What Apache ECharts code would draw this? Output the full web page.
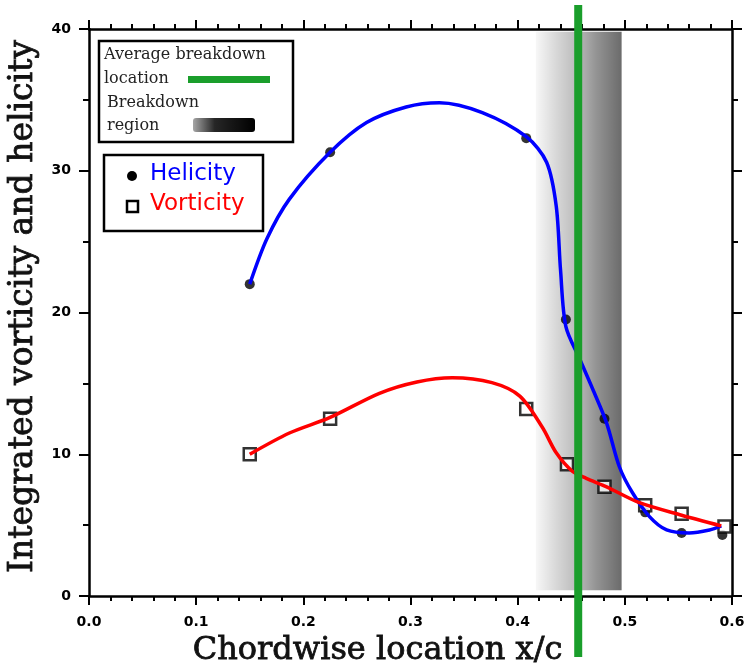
<!DOCTYPE html>
<html><head><meta charset="utf-8">
<script src="https://cdn.jsdelivr.net/npm/echarts@6/dist/echarts.min.js"></script>
<style>html,body{margin:0;padding:0;background:#fff}#c{width:747px;height:668px}</style>
</head><body><div id="c"></div>
<script>
// ---- data ----
const xTickLabels = ['0.0','0.1','0.2','0.3','0.4','0.5','0.6'];
const yTickLabels = ['0','10','20','30','40'];

const helicityX = [0.150, 0.225, 0.408, 0.445, 0.481, 0.519, 0.553, 0.591];
const helicityY = [22.0, 31.3, 32.3, 19.5, 12.5, 5.9, 4.45, 4.3];

const vorticityX = [0.150, 0.225, 0.408, 0.446, 0.481, 0.519, 0.553, 0.593];
const vorticityY = [10.0, 12.5, 13.2, 9.3, 7.7, 6.4, 5.8, 4.9];

// fitted curves drawn in the figure
const helicityCurveX = [0.150,0.166,0.187,0.225,0.259,0.296,0.327,0.367,0.408,0.427,0.436,0.440,0.445,0.458,0.470,0.483,0.495,0.507,0.523,0.539,0.560,0.579,0.590];
const helicityCurveY = [22.0,25.2,28.0,31.3,33.4,34.5,34.8,34.1,32.4,30.6,27.5,23.0,19.0,16.7,14.6,12.2,9.1,7.3,5.6,4.66,4.45,4.66,4.95];

const vorticityCurveX = [0.150,0.187,0.225,0.271,0.306,0.339,0.376,0.402,0.423,0.436,0.451,0.464,0.483,0.513,0.553,0.590];
const vorticityCurveY = [10.0,11.5,12.6,14.3,15.1,15.4,15.05,14.1,11.9,10.1,8.8,8.3,7.7,6.6,5.7,4.95];

const breakdownRegion = [0.417, 0.497];
const averageBreakdownX = 0.4565;

const zip = (a, b) => a.map((v, i) => [v, b[i]]);

const chart = echarts.init(document.getElementById('c'));
const labelFont = {fontFamily: 'DejaVu Sans', fontWeight: 'bold', fontSize: 14, color: '#000'};
const axisLine = {show: true, onZero: false, lineStyle: {color: '#000', width: 2.5}};

const xBase = {type: 'value', min: 0, max: 0.6, interval: 0.1, splitLine: {show: false},
  axisLine: axisLine, axisTick: {show: true, inside: false, length: 9, lineStyle: {color: '#000', width: 2}},
  minorTick: {show: true, splitNumber: 5, length: 5, lineStyle: {color: '#000', width: 2}}};
const yBase = {type: 'value', min: 0, max: 40, interval: 10, splitLine: {show: false},
  axisLine: axisLine, axisTick: {show: true, inside: false, length: 10, lineStyle: {color: '#000', width: 2}},
  minorTick: {show: true, splitNumber: 2, length: 6, lineStyle: {color: '#000', width: 2}}};

chart.setOption({
  animation: false,
  backgroundColor: '#fff',
  grid: {left: 89, right: 15, top: 29, bottom: 72, containLabel: false, outerBoundsMode: 'none'},
  xAxis: [
    Object.assign({}, xBase, {position: 'bottom',
      axisLabel: Object.assign({margin: 19, formatter: v => xTickLabels[Math.round(v * 10)]}, labelFont),
      name: 'Chordwise location x/c', nameLocation: 'middle', nameGap: 34,
      nameTextStyle: {fontFamily: 'DejaVu Serif', fontSize: 32, color: '#111', textBorderColor: '#111', textBorderWidth: 0.8, padding: [0, 66, 0, 0]}}),
    Object.assign({}, xBase, {position: 'top', axisLabel: {show: false}})
  ],
  yAxis: [
    Object.assign({}, yBase, {position: 'left',
      axisLabel: Object.assign({margin: 18, formatter: v => yTickLabels[Math.round(v / 10)]}, labelFont),
      name: 'Integrated vorticity and helicity', nameLocation: 'middle', nameGap: 43, nameRotate: 90,
      nameTextStyle: {fontFamily: 'DejaVu Serif', fontSize: 33, color: '#111', textBorderColor: '#111', textBorderWidth: 0.8, padding: [0, 0, 0, 12]}}),
    Object.assign({}, yBase, {position: 'right', axisLabel: {show: false}})
  ],
  series: [
    {name: 'Breakdown region', type: 'scatter', data: [], silent: true, z: 1,
      markArea: {silent: true, z: 1,
        itemStyle: {color: new echarts.graphic.LinearGradient(0, 0, 1, 0, [
          {offset: 0, color: 'rgba(0,0,0,0.03)'},
          {offset: 0.25, color: 'rgba(0,0,0,0.16)'},
          {offset: 0.5, color: 'rgba(0,0,0,0.28)'},
          {offset: 0.7, color: 'rgba(0,0,0,0.42)'},
          {offset: 1, color: 'rgba(0,0,0,0.58)'}])},
        data: [[{xAxis: breakdownRegion[0], yAxis: 0.4}, {xAxis: breakdownRegion[1], yAxis: 39.8}]]}},
    {name: 'Helicity', type: 'scatter', data: zip(helicityX, helicityY), symbol: 'circle', symbolSize: 10,
      itemStyle: {color: '#000'}, z: 2},
    {name: 'Vorticity', type: 'scatter', data: zip(vorticityX, vorticityY), symbol: 'rect', symbolSize: 12,
      itemStyle: {color: '#fff', borderColor: '#000', borderWidth: 2.5}, z: 2},
    {name: 'Helicity fit', type: 'line', data: zip(helicityCurveX, helicityCurveY), smooth: 0.3,
      showSymbol: false, lineStyle: {color: '#0000ff', width: 3.5}, z: 3},
    {name: 'Vorticity fit', type: 'line', data: zip(vorticityCurveX, vorticityCurveY), smooth: 0.3,
      showSymbol: false, lineStyle: {color: '#ff0000', width: 3.5}, z: 3}
  ]
});

const gx = chart.convertToPixel({xAxisIndex: 0}, averageBreakdownX);
const serif16 = '16px "DejaVu Serif"';
const sans23 = '23px "DejaVu Sans"';
chart.setOption({
  graphic: [
    {type: 'line', z: 100, shape: {x1: gx, y1: 5, x2: gx, y2: 657}, style: {stroke: '#1a9e2b', lineWidth: 8}},
    {type: 'rect', z: 90, shape: {x: 99, y: 41, width: 194, height: 101}, style: {fill: '#fff', stroke: '#000', lineWidth: 2.5}},
    {type: 'text', z: 91, x: 104, y: 55, style: {text: 'Average breakdown', font: serif16, fill: '#222', verticalAlign: 'middle'}},
    {type: 'text', z: 91, x: 104, y: 79, style: {text: 'location', font: serif16, fill: '#222', verticalAlign: 'middle'}},
    {type: 'rect', z: 91, shape: {x: 188, y: 76, width: 82, height: 7}, style: {fill: '#1a9e2b'}},
    {type: 'text', z: 91, x: 107, y: 103, style: {text: 'Breakdown', font: serif16, fill: '#222', verticalAlign: 'middle'}},
    {type: 'text', z: 91, x: 107, y: 126, style: {text: 'region', font: serif16, fill: '#222', verticalAlign: 'middle'}},
    {type: 'rect', z: 91, shape: {x: 193, y: 118, width: 62, height: 14, r: 3}, style: {fill: new echarts.graphic.LinearGradient(0, 0, 1, 0, [
      {offset: 0, color: 'rgba(0,0,0,0.35)'}, {offset: 0.35, color: 'rgba(0,0,0,0.85)'}, {offset: 1, color: '#000'}])}},
    {type: 'rect', z: 90, shape: {x: 104, y: 155, width: 159, height: 76}, style: {fill: '#fff', stroke: '#000', lineWidth: 2.5}},
    {type: 'circle', z: 91, shape: {cx: 132, cy: 176, r: 5}, style: {fill: '#000'}},
    {type: 'text', z: 91, x: 150, y: 174, style: {text: 'Helicity', font: sans23, fill: '#0000ff', verticalAlign: 'middle'}},
    {type: 'rect', z: 91, shape: {x: 127, y: 201, width: 11, height: 11}, style: {fill: '#fff', stroke: '#000', lineWidth: 2.5}},
    {type: 'text', z: 91, x: 150, y: 204, style: {text: 'Vorticity', font: sans23, fill: '#ff0000', verticalAlign: 'middle'}}
  ]
});
</script>
</body></html>
